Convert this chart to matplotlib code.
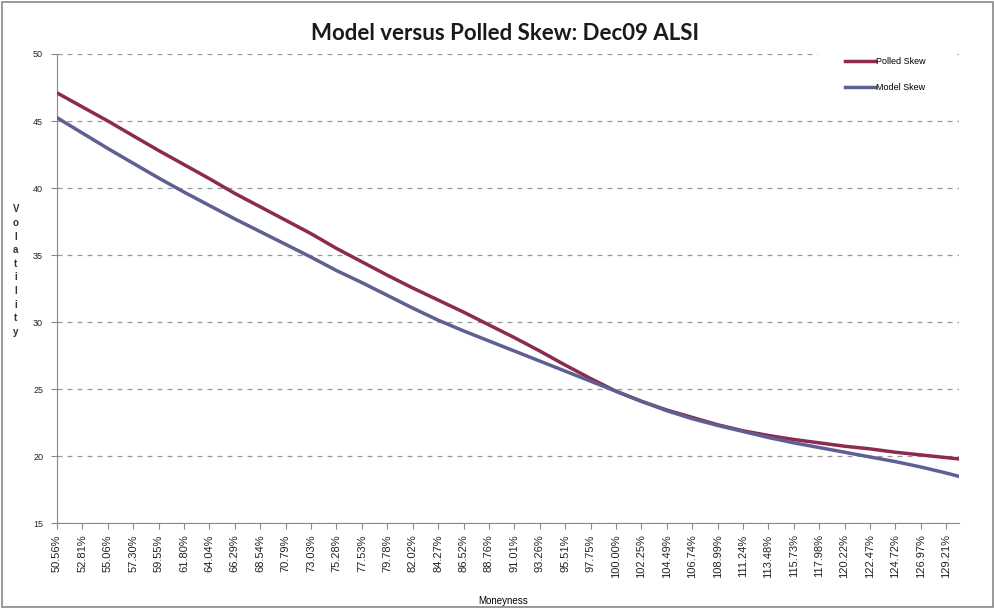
import matplotlib
matplotlib.use("Agg")
import matplotlib.pyplot as plt
from matplotlib.patches import Rectangle

# moneyness categories (every second one is labelled), last one unlabelled
moneyness = [50.56, 52.81, 55.06, 57.30, 59.55, 61.80, 64.04, 66.29, 68.54, 70.79,
             73.03, 75.28, 77.53, 79.78, 82.02, 84.27, 86.52, 88.76, 91.01, 93.26,
             95.51, 97.75, 100.00, 102.25, 104.49, 106.74, 108.99, 111.24, 113.48,
             115.73, 117.98, 120.22, 122.47, 124.72, 126.97, 129.21, 130.34]

polled_skew = [47.1, 46.05, 45.0, 43.9, 42.8, 41.75, 40.7, 39.6, 38.6, 37.6,
               36.6, 35.5, 34.5, 33.5, 32.55, 31.65, 30.75, 29.8, 28.85, 27.85,
               26.8, 25.8, 24.85, 24.1, 23.45, 22.9, 22.35, 21.9, 21.55, 21.25,
               21.0, 20.75, 20.55, 20.3, 20.1, 19.9, 19.8]

model_skew = [45.25, 44.1, 42.95, 41.85, 40.75, 39.7, 38.7, 37.7, 36.75, 35.8,
              34.85, 33.85, 32.95, 32.0, 31.05, 30.15, 29.35, 28.6, 27.85, 27.1,
              26.35, 25.6, 24.85, 24.1, 23.4, 22.8, 22.3, 21.85, 21.4, 21.0,
              20.65, 20.3, 19.95, 19.6, 19.2, 18.75, 18.5]

tick_pos = moneyness[:-1]
tick_labels = ["%.2f%%" % m for m in tick_pos]
y_ticks = [15, 20, 25, 30, 35, 40, 45, 50]

plt.rcParams['font.family'] = ['Liberation Sans', 'DejaVu Sans']

fig = plt.figure(figsize=(9.95, 6.08), dpi=100)
ax = fig.add_axes([0.0573, 0.1393, 0.9065, 0.7719])

ax.plot(moneyness, polled_skew, color='#8c2a4f', lw=2.5, label='Polled Skew', zorder=3)
ax.plot(moneyness, model_skew, color='#5e6092', lw=2.5, label='Model Skew', zorder=3)

ax.set_xlim(50.56, 130.34)
ax.set_ylim(15, 50)
ax.set_yticks(y_ticks)
ax.set_xticks(tick_pos)
ax.set_xticklabels(tick_labels, rotation=90, fontsize=8, color='#222222')
ax.tick_params(axis='y', labelsize=6.5, length=4, color='#888888', pad=6, labelcolor='#222222')
ax.tick_params(axis='x', length=4, color='#888888', pad=4)
ax.yaxis.grid(True, linestyle=(0, (4, 4)), color='#999999', lw=0.9)
ax.set_axisbelow(True)

for s in ['top', 'right']:
    ax.spines[s].set_visible(False)
for s in ['left', 'bottom']:
    ax.spines[s].set_color('#888888')

ax.set_xlabel("Moneyness", fontsize=7)
ax.xaxis.set_label_coords(0.495, -0.155)

fig.text(0.016, 0.555, "V\no\nl\na\nt\ni\nl\ni\nt\ny", fontsize=7, ha='center', va='center',
         linespacing=1.45, fontweight='bold', color='#333333')

fig.suptitle("Model versus Polled Skew: Dec09 ALSI", x=0.508, y=0.962, fontsize=16,
             fontweight='bold', family=['Lato', 'DejaVu Sans'], color='#1a1a1a')

leg = fig.legend(loc='upper left', bbox_to_anchor=(0.822, 0.95), frameon=True, fontsize=6.5,
                 handlelength=3.3, handletextpad=0.15, labelspacing=1.8, borderpad=3.0,
                 borderaxespad=0.0)
leg.get_frame().set_facecolor('white')
leg.get_frame().set_edgecolor('white')
leg.get_frame().set_alpha(1.0)

fig.patches.append(Rectangle((0.002, 0.002), 0.996, 0.994, transform=fig.transFigure,
                             fill=False, edgecolor='#888888', lw=1.2))

fig.savefig("out.png", dpi=100)
